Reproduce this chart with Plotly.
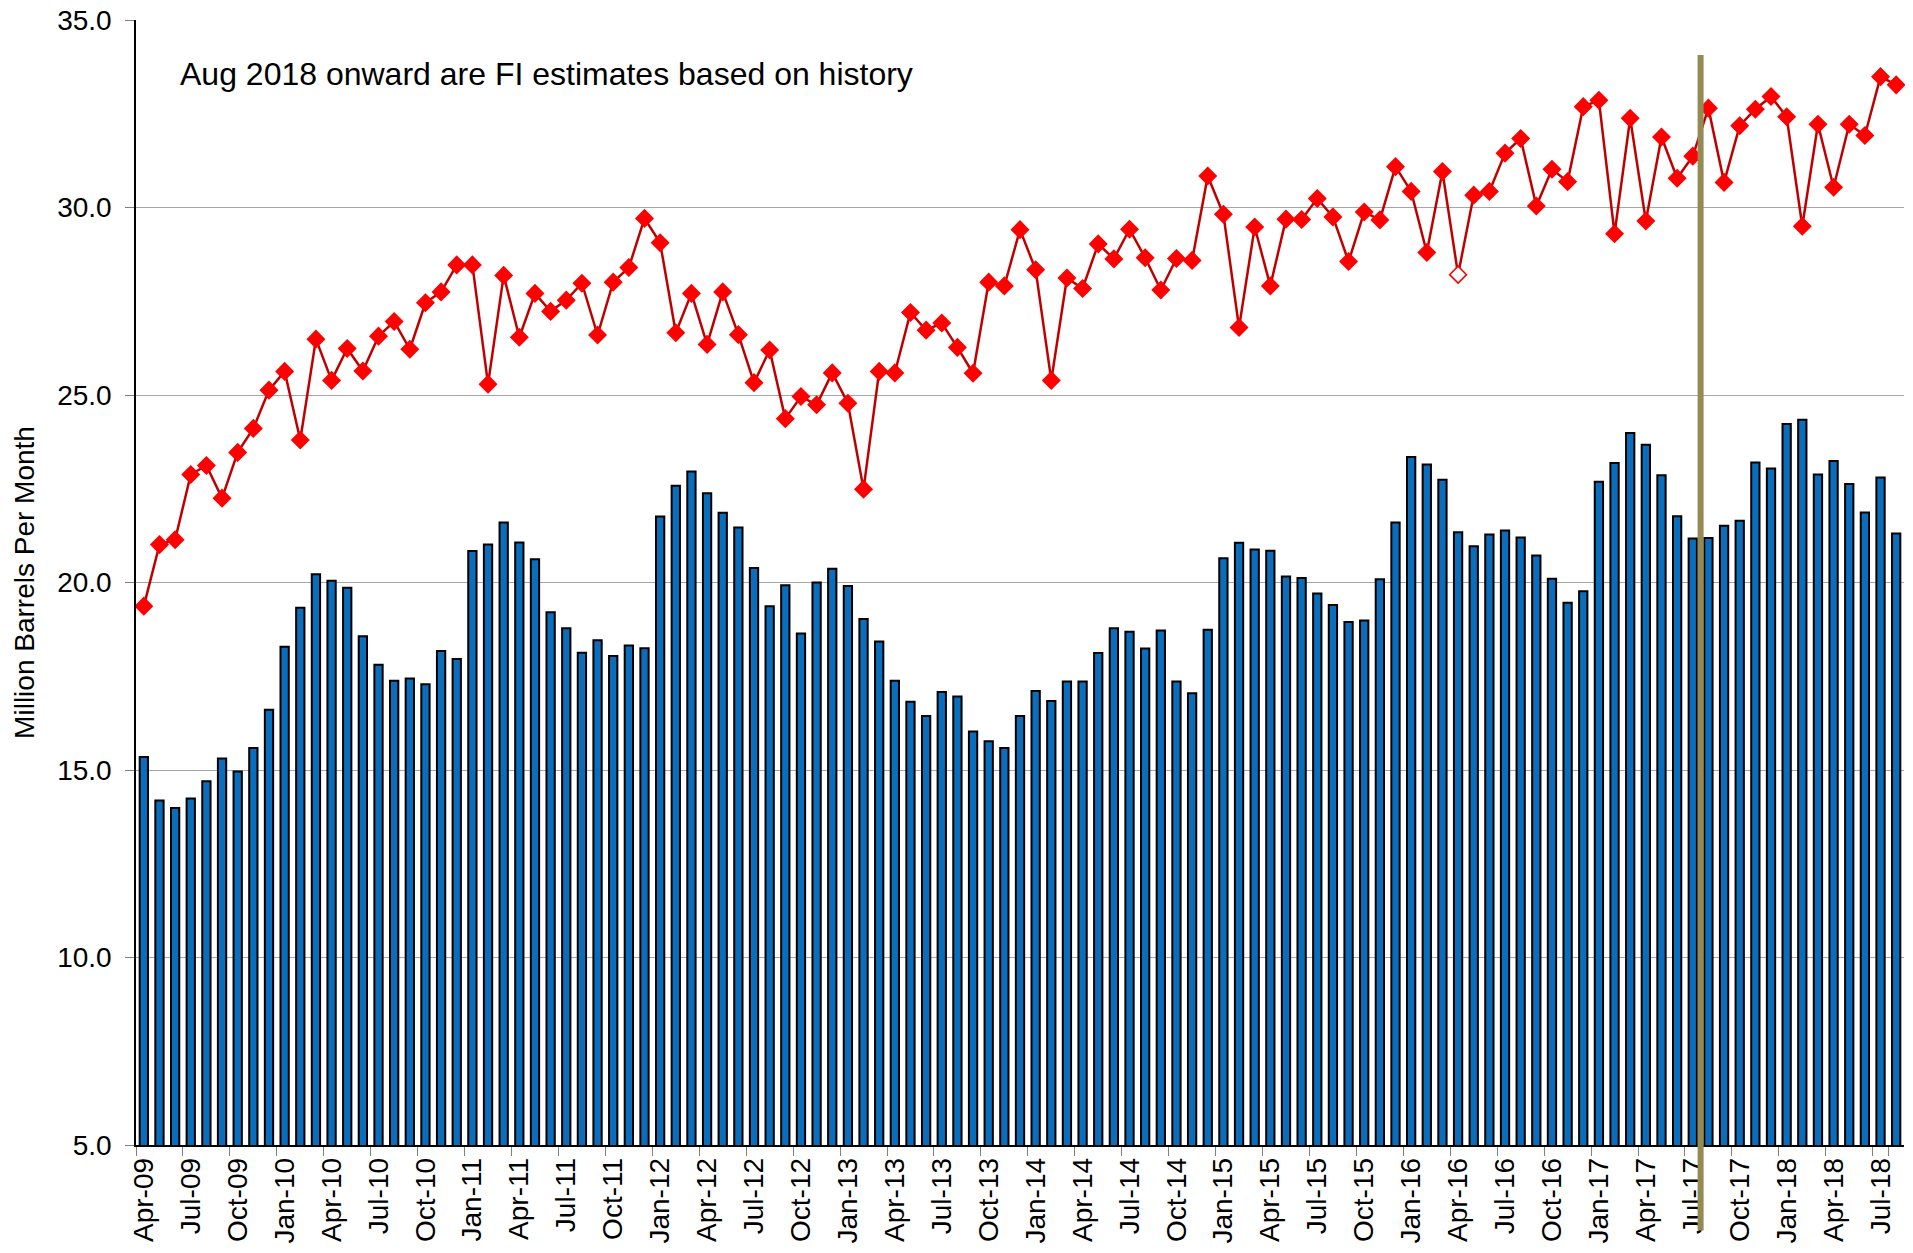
import pandas as pd
import plotly.graph_objects as go

# monthly categories Apr-09 .. Aug-18
months = list(pd.date_range("2009-04-01", "2018-08-01", freq="MS").strftime("%b-%y"))

# blue bars
bars = [15.35, 14.19, 13.99, 14.24, 14.70, 15.31, 14.96, 15.59, 16.61, 18.29, 19.33, 20.22, 20.05, 19.86, 18.57, 17.81, 17.38, 17.44,
        17.29, 18.17, 17.96, 20.84, 21.01, 21.60, 21.07, 20.62, 19.21, 18.78, 18.13, 18.46, 18.04, 18.32, 18.25, 21.76, 22.58, 22.96, 22.38,
        21.86, 21.47, 20.39, 19.37, 19.93, 18.64, 20.00, 20.37, 19.91, 19.03, 18.43, 17.38, 16.82, 16.44, 17.08, 16.96, 16.03, 15.77, 15.59,
        16.44, 17.11, 16.84, 17.36, 17.36, 18.12, 18.78, 18.69, 18.24, 18.72, 17.36, 17.05, 18.74, 20.65, 21.06, 20.88, 20.85, 20.16,
        20.12, 19.71, 19.40, 18.95, 18.99, 20.09, 21.60, 23.35, 23.15, 22.74, 21.34, 20.97, 21.28, 21.39, 21.20, 20.72, 20.10, 19.46, 19.77,
        22.69, 23.19, 23.99, 23.67, 22.86, 21.77, 21.17, 21.19, 21.51, 21.65, 23.20, 23.04, 24.23, 24.34, 22.88, 23.24, 22.63, 21.87, 22.80, 21.31]

# red line
line = [19.37, 21.01, 21.14, 22.88, 23.12, 22.25, 23.47, 24.11, 25.13, 25.63, 23.80, 26.49, 25.39, 26.24, 25.64, 26.57, 26.96, 26.22,
        27.46, 27.75, 28.47, 28.47, 25.29, 28.19, 26.54, 27.71, 27.23, 27.53, 27.98, 26.60, 28.01, 28.40, 29.71, 29.06, 26.66, 27.71, 26.35,
        27.75, 26.61, 25.33, 26.20, 24.37, 24.96, 24.74, 25.59, 24.78, 22.49, 25.63, 25.59, 27.20, 26.73, 26.92, 26.27, 25.58, 28.01, 27.91,
        29.41, 28.34, 25.39, 28.12, 27.84, 29.03, 28.63, 29.42, 28.66, 27.80, 28.64, 28.59, 30.84, 29.82, 26.80, 29.48, 27.91, 29.69,
        29.68, 30.24, 29.75, 28.56, 29.88, 29.67, 31.09, 30.43, 28.80, 30.96, 28.21, 30.33, 30.43, 31.45, 31.84, 30.04, 31.02, 30.69, 32.69,
        32.86, 29.30, 32.38, 29.64, 31.88, 30.78, 31.37, 32.65, 30.67, 32.18, 32.62, 32.96, 32.42, 29.50, 32.22, 30.54, 32.22, 31.92, 33.49, 33.27]

hollow_month = "Apr-16"
tick_months = months[::3]
note = "Aug 2018 onward are FI estimates based on history"

FONT = "Liberation Sans, Arial, sans-serif"

fig = go.Figure()
fig.add_trace(go.Bar(
    x=months, y=bars,
    marker=dict(color="#0A6EBD", line=dict(color="black", width=2)),
    showlegend=False))

marker_fill = ["white" if m == hollow_month else "#FF0000" for m in months]
fig.add_trace(go.Scatter(
    x=months, y=line, mode="lines+markers", cliponaxis=False,
    line=dict(color="#C00000", width=2.5),
    marker=dict(symbol="diamond", size=13, color=marker_fill, line=dict(color="#FF0000", width=1.5)),
    showlegend=False))

# divider between actual and estimate
fig.add_shape(type="line", xref="x", yref="paper", x0=99.5, x1=99.5, y0=-0.076, y1=0.969,
              line=dict(color="#948A54", width=6))

fig.add_annotation(text=note, xref="paper", yref="paper", x=0.0238, y=0.9516,
                   xanchor="left", yanchor="middle", showarrow=False,
                   font=dict(size=32, color="black", family=FONT))

# page body adds an 8px offset, so the figure is 8px smaller and margins shifted
fig.update_layout(
    width=1905, height=1245,
    margin=dict(l=128, r=9, t=12, b=108),
    plot_bgcolor="white", paper_bgcolor="white",
    bargap=0.47,
    font=dict(family=FONT, size=28, color="black"),
)
fig.update_xaxes(
    type="category", range=[-0.5, len(months) - 0.5], automargin=False,
    tickmode="array", tickvals=tick_months, ticktext=tick_months,
    tickson="boundaries", ticks="outside", ticklen=9, tickcolor="#808080",
    tickangle=-90, tickfont=dict(size=28),
    showgrid=False, showline=True, linecolor="black", linewidth=1.5)
fig.update_yaxes(
    range=[5, 35], dtick=5, tickformat=".1f", automargin=False,
    ticklabeloverflow="allow",
    showgrid=True, gridcolor="#A6A6A6", gridwidth=1, zeroline=False,
    showline=True, linecolor="black", linewidth=1.5,
    ticks="outside", ticklen=9, tickcolor="#808080", ticklabelstandoff=8,
    tickfont=dict(size=28),
    title=dict(text="Million Barrels Per Month", font=dict(size=28), standoff=14))

fig.write_html("out.html")
